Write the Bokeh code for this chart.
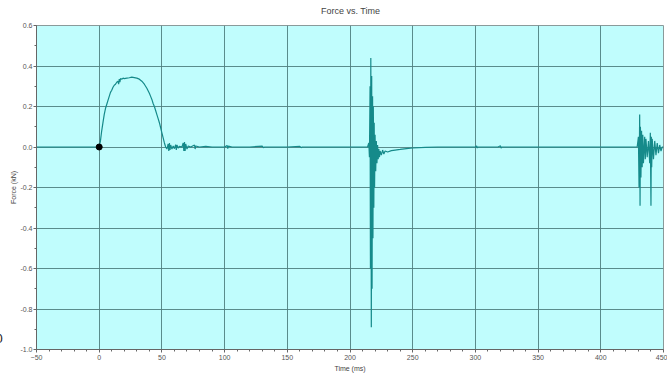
from bokeh.plotting import figure
from bokeh.models import FixedTicker, Label, NumeralTickFormatter, ColumnDataSource
from bokeh.embed import file_html
from bokeh.resources import INLINE

# Time (ms) and force (kN), in five segments
t_impact = [-50, 0, 1, 2, 3, 4, 5, 6, 7, 8, 9, 10, 11, 12, 13, 14, 15, 15.5, 16, 16.5, 17, 18, 19, 20,
            22, 24, 26, 28, 30, 32, 34, 36, 38, 40, 41, 42, 43, 44, 45, 46, 47, 48, 49, 50, 51, 52, 53]
f_impact = [0, 0, 0.03, 0.08, 0.12, 0.16, 0.19, 0.21, 0.23, 0.25, 0.27, 0.28, 0.295, 0.305, 0.31, 0.32, 0.325, 0.31, 0.335, 0.32, 0.338, 0.335, 0.34, 0.338,
            0.34, 0.342, 0.345, 0.343, 0.34, 0.335, 0.325, 0.31, 0.29, 0.265, 0.25, 0.235, 0.215, 0.2, 0.18, 0.16, 0.14, 0.12, 0.095, 0.07, 0.045, 0.02, 0.0]

t_ringing = [54, 55, 55.5, 56, 56.5, 57, 58, 59, 60, 61, 61.5, 62, 63, 64, 66, 67, 67.5, 68, 68.5, 69, 70, 71, 73,
             76, 76.5, 77, 80, 85, 90, 100, 102, 102.5, 103, 106, 120, 130, 131, 132, 150, 160, 161, 162, 200]
f_ringing = [-0.01, 0.015, -0.02, 0.02, -0.015, 0.01, -0.01, 0.005, -0.008, 0.012, -0.015, 0.01, -0.005, 0.003, 0.0, 0.02, -0.02, 0.025, -0.02, 0.015, -0.01, 0.005, 0.0,
             0.01, -0.01, 0.005, 0.0, 0.003, 0.0, 0.0, 0.008, -0.008, 0.004, 0.0, 0.0, 0.004, -0.003, 0.0, 0.0, 0.003, -0.003, 0.0, 0.0]

t_spike = [214, 215, 215.5, 216, 216.3, 216.6, 217, 217.3, 217.6, 218, 218.3, 218.6, 219, 219.3, 219.6, 220, 220.5, 221,
           221.5, 222, 222.5, 223, 223.5, 224, 225, 226, 227, 228, 230, 233, 236, 240, 245, 250, 260, 270]
f_spike = [0, 0.02, -0.05, 0.3, -0.6, 0.44, -0.89, 0.35, -0.7, 0.25, -0.45, 0.2, -0.3, 0.12, -0.2, 0.06, -0.12, 0.03,
           -0.08, 0.01, -0.06, -0.01, -0.05, -0.02, -0.04, -0.015, -0.035, -0.02, -0.025, -0.018, -0.015, -0.012, -0.008, -0.005, -0.002, 0.0]

t_quiet = [300, 301, 301.5, 302, 318, 320, 320.5, 321, 340]
f_quiet = [0.0, 0.005, -0.005, 0.0, 0.0, 0.006, -0.006, 0.0, 0.0]

t_end = [429, 430, 430.5, 431, 431.3, 431.6, 432, 432.5, 433, 433.5, 434, 435, 435.5, 436, 437, 438, 439, 439.5,
         440, 440.3, 440.6, 441, 442, 443, 444, 445, 446, 447, 448, 449, 450]
f_end = [0.0, 0.05, -0.2, 0.16, -0.29, 0.1, -0.15, 0.08, -0.1, 0.06, -0.08, 0.05, -0.06, 0.04, -0.05, 0.03, -0.08, 0.07,
         -0.29, 0.05, -0.1, 0.04, -0.06, 0.03, -0.04, 0.02, -0.03, 0.01, -0.02, 0.0, 0.0]

start_point_t = [0]
start_point_f = [0]

x_ticks = [-50, 0, 50, 100, 150, 200, 250, 300, 350, 400, 450]
y_ticks = [-1.0, -0.8, -0.6, -0.4, -0.2, 0.0, 0.2, 0.4, 0.6]

time_ms = t_impact + t_ringing + t_spike + t_quiet + t_end
force_kn = f_impact + f_ringing + f_spike + f_quiet + f_end

FONT = "Liberation Sans"

p = figure(width=667, height=376, x_range=(-50, 450), y_range=(-1.0, 0.6),
           output_backend="svg", toolbar_location=None,
           min_border_left=35, min_border_right=4, min_border_top=25, min_border_bottom=27)

p.background_fill_color = "#c0fdfd"
p.border_fill_color = "white"
p.outline_line_color = "#8a9a9a"

p.xaxis.ticker = FixedTicker(ticks=x_ticks, minor_ticks=list(range(-50, 451, 10)))
p.yaxis.ticker = FixedTicker(ticks=y_ticks, minor_ticks=[round(-1.0 + 0.1 * i, 2) for i in range(17)])
p.yaxis.formatter = NumeralTickFormatter(format="0.0")

for ax in (p.xaxis[0], p.yaxis[0]):
    ax.major_label_text_font = FONT
    ax.major_label_text_font_size = "7px"
    ax.major_label_text_color = "#555555"
    ax.axis_label_text_font = FONT
    ax.axis_label_text_font_size = "7px"
    ax.axis_label_text_font_style = "normal"
    ax.axis_label_text_color = "#444444"
    ax.axis_line_color = "#666666"
    ax.major_tick_line_color = "#666666"
    ax.minor_tick_line_color = "#666666"
    ax.major_tick_out = 3
    ax.major_tick_in = 0
    ax.minor_tick_out = 2
    ax.minor_tick_in = 0
    ax.major_label_standoff = 2
    ax.axis_label_standoff = 2
p.yaxis.major_label_standoff = 1
p.yaxis.axis_label_standoff = 0

p.xaxis.axis_label = "Time (ms)"
p.yaxis.axis_label = "Force (kN)"

p.xgrid.ticker = FixedTicker(ticks=x_ticks)
p.ygrid.ticker = FixedTicker(ticks=y_ticks)
for g in (p.xgrid[0], p.ygrid[0]):
    g.grid_line_color = "#4f7f80"
    g.grid_line_alpha = 0.9
    g.grid_line_width = 1

src = ColumnDataSource(data=dict(t=time_ms, f=force_kn))
p.line("t", "f", source=src, line_color="#158a8a", line_width=1.2)
p.scatter(start_point_t, start_point_f, size=6, color="black")

# chart title, placed in the panel above the plot frame
p.add_layout(Label(x=314, y=15, x_units="screen", y_units="screen", text="Force vs. Time",
                   text_align="center", text_baseline="middle",
                   text_font=FONT, text_font_size="9px", text_line_height=0.5,
                   text_color="#444444"), "above")

# stray, partly cut-off character at the bottom-left edge of the reference picture
p.add_layout(Label(x=-5, y=7, x_units="screen", y_units="screen", text="0",
                   text_font=FONT, text_font_size="13px", text_line_height=0.5,
                   text_color="#222222"), "left")

open("out.html", "w").write(file_html(p, INLINE))
